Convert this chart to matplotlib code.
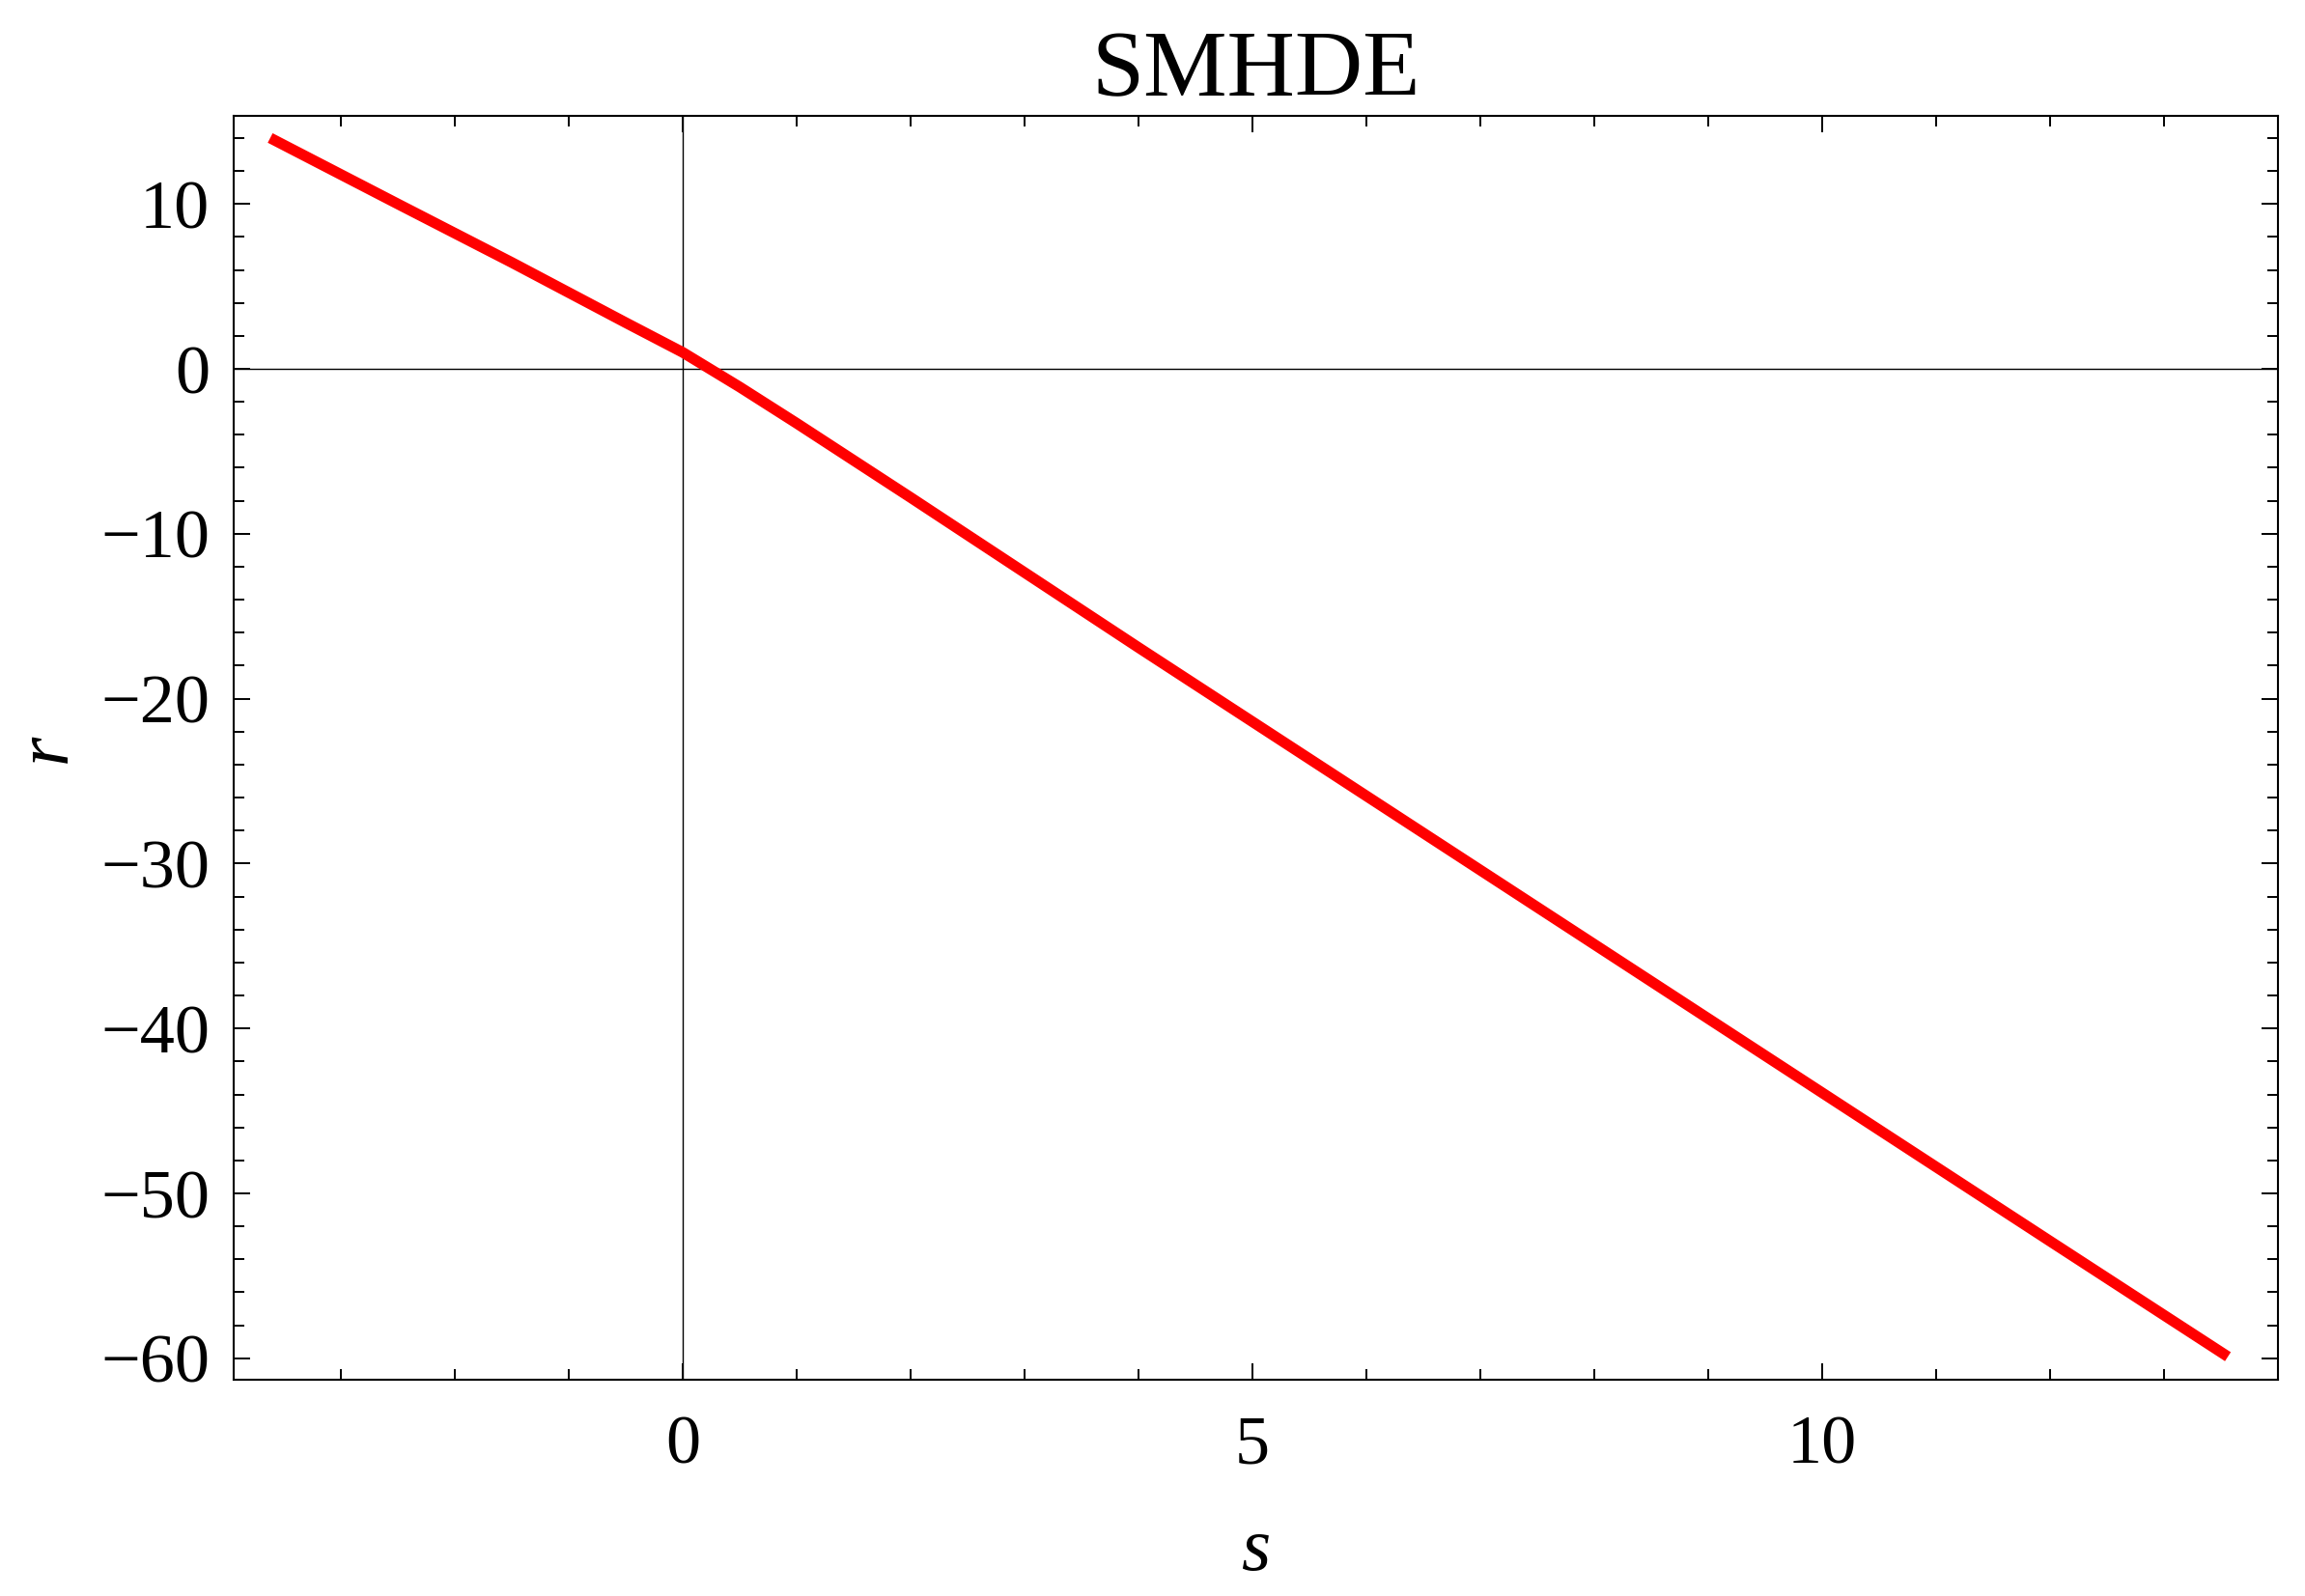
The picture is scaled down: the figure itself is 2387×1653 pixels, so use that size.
import matplotlib
matplotlib.use("Agg")
import matplotlib.pyplot as plt
from matplotlib.ticker import MultipleLocator

# Data (s, r) curve
s_vals = [-3.62, -2.5, -1.5, -0.5, 0.0, 0.5, 1.0, 2.0, 4.0, 6.0, 8.0, 10.0, 12.0, 13.56]
r_vals = [14.0, 10.0, 6.45, 2.8, 1.0, -1.1, -3.3, -7.8, -16.9, -25.9, -34.9, -43.9, -52.9, -59.9]

x_major = [0, 5, 10]
y_major = [10, 0, -10, -20, -30, -40, -50, -60]
title = "SMHDE"

plt.rcParams['font.family'] = ['Liberation Serif', 'DejaVu Serif']

fig = plt.figure(figsize=(23.87, 16.53), dpi=100)
ax = fig.add_axes([0.1014, 0.1355, 0.9883 - 0.1014, 0.9274 - 0.1355])

ax.axhline(0, color='black', lw=1.0, zorder=1)
ax.axvline(0, color='black', lw=1.0, zorder=1)
ax.plot(s_vals, r_vals, color='#ff0000', lw=8.0, solid_capstyle='butt',
        solid_joinstyle='round', zorder=3)

ax.set_xlim(-3.94, 14.0)
ax.set_ylim(-61.3, 15.34)

ax.set_xticks(x_major)
ax.set_yticks(y_major)
ax.xaxis.set_minor_locator(MultipleLocator(1))
ax.yaxis.set_minor_locator(MultipleLocator(2))

ax.tick_params(which='both', direction='in', top=True, right=True, width=1.4)
ax.tick_params(which='major', length=12.2, labelsize=52, pad=18)
ax.tick_params(axis='x', which='major', pad=26)
ax.tick_params(which='minor', length=7.7)

for sp in ax.spines.values():
    sp.set_linewidth(1.5)

ax.set_title(title, fontsize=70, pad=14)
ax.set_xlabel("s", fontsize=56, style='italic', labelpad=30)
ax.set_ylabel("r", fontsize=56, style='italic', labelpad=14, rotation=90)

fig.savefig("out.png", dpi=100)
